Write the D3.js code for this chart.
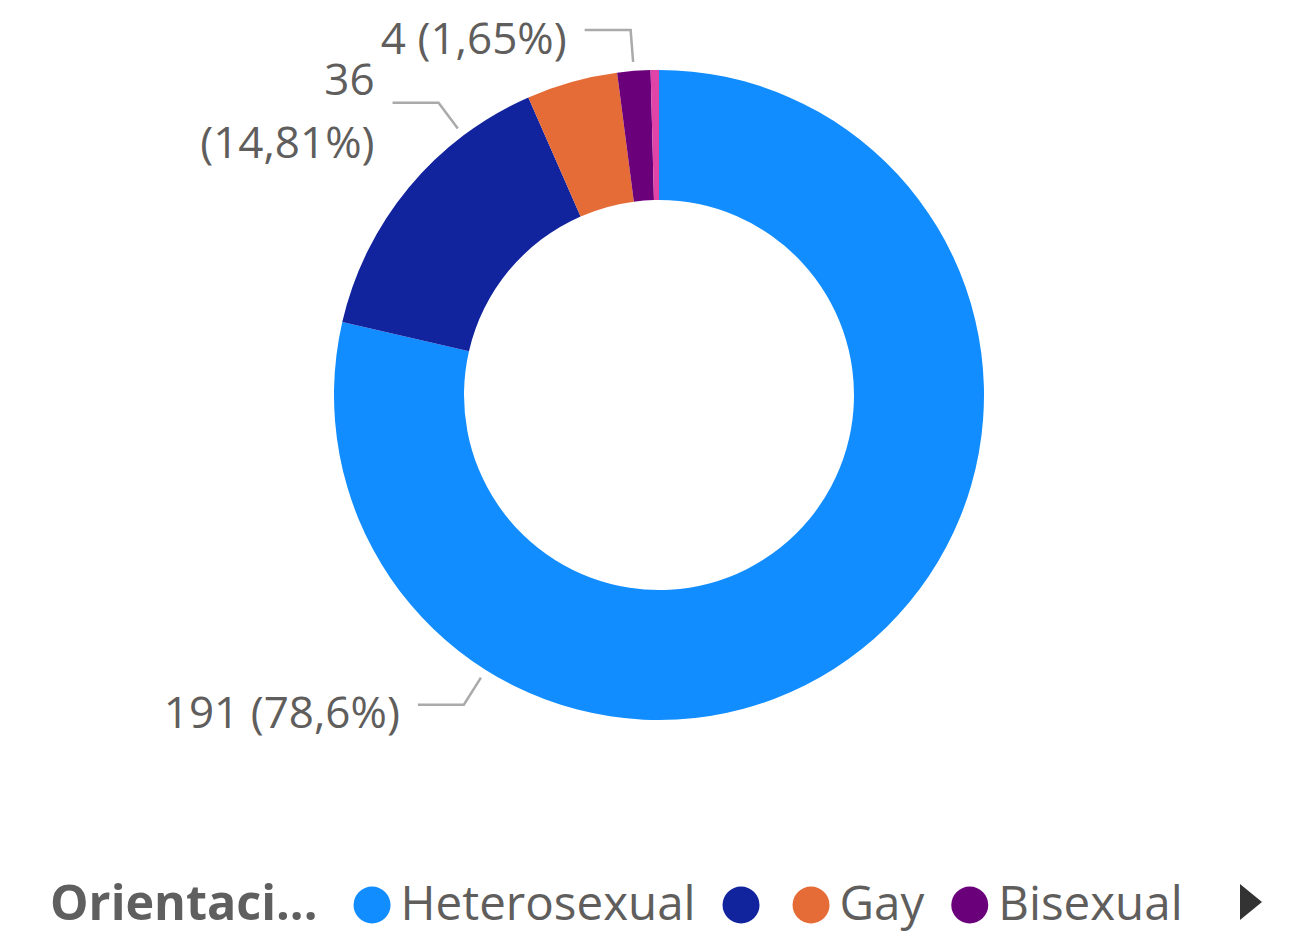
<!DOCTYPE html>
<html>
<head>
<meta charset="utf-8">
<script src="https://cdn.jsdelivr.net/npm/d3@7"></script>
<style>
  html, body { margin: 0; padding: 0; background: #fff; }
  svg { display: block; font-family: 'Segoe UI', 'Open Sans', sans-serif; }
</style>
</head>
<body>
<div id="chart"></div>
<script>
(function() {
  "use strict";

  var WIDTH = 1291;
  var HEIGHT = 934;

  // Data
  var categories = ['Heterosexual', '', 'Gay', 'Bisexual', 'Otra'];
  var counts = [191, 36, 11, 4, 1];
  var colors = ['#118DFF', '#12239E', '#E66C37', '#6B007B', '#E044A7'];
  var legendTitle = 'Orientaci...';
  var legendVisibleCount = 4;

  // Which slices carry a data label, where along the slice the leader line
  // starts (0..1 of the slice's angle) and whether the label wraps
  var labelSlices = [0, 1, 3];
  var labelFractions = [0.75, 0.75, 0.5];
  var labelWraps = [false, true, false];

  var cx = 659, cy = 395;
  var outerRadius = 325;
  var innerRadius = 195;

  var svg = d3.select('#chart')
      .append('svg')
      .attr('width', WIDTH)
      .attr('height', HEIGHT);

  var total = d3.sum(counts);

  var pie = d3.pie()
      .sort(null)
      .value(function(d) { return d; });

  var arcs = pie(counts);

  var arc = d3.arc()
      .innerRadius(innerRadius)
      .outerRadius(outerRadius);

  var donut = svg.append('g')
      .attr('transform', 'translate(' + cx + ',' + cy + ')');

  donut.selectAll('path')
      .data(arcs)
      .enter()
      .append('path')
      .attr('d', arc)
      .attr('fill', function(d, i) { return colors[i]; });

  /**
   * Formats a share as Power BI does in Spanish: two decimals at most,
   * trailing zeros dropped, comma as the decimal mark.
   */
  function formatPercent(value) {
    var s = d3.format('.2f')(value * 100);
    s = s.replace(/0+$/, '').replace(/\.$/, '');
    return s.replace('.', ',') + '%';
  }

  /**
   * Point on a circle of radius r at angle a (d3.pie angles, 0 = top).
   */
  function polar(a, r) {
    return [Math.sin(a) * r, -Math.cos(a) * r];
  }

  var labels = donut.append('g');

  labelSlices.forEach(function(sliceIndex, k) {
    var slice = arcs[sliceIndex];
    var a = slice.startAngle + (slice.endAngle - slice.startAngle) * labelFractions[k];
    var p0 = polar(a, outerRadius + 9);
    var p1 = polar(a, outerRadius + 41);
    var p2 = [p1[0] - 46, p1[1]];

    labels.append('polyline')
        .attr('points', [p0, p1, p2].map(function(p) { return p.join(','); }).join(' '))
        .attr('fill', 'none')
        .attr('stroke', '#AAAAAA')
        .attr('stroke-width', 2.5);

    var value = counts[sliceIndex];
    var pct = '(' + formatPercent(value / total) + ')';
    var lines = labelWraps[k] ? [String(value), pct] : [value + ' ' + pct];
    var lineHeight = 63;
    var top = p2[1] + 8 - (lines.length - 1) * lineHeight / 2;

    var text = labels.append('text')
        .attr('text-anchor', 'end')
        .attr('fill', '#605E5C')
        .style('font-size', '44px');

    lines.forEach(function(line, j) {
      text.append('tspan')
          .attr('x', p2[0] - 18)
          .attr('y', top + j * lineHeight)
          .attr('dy', '0.35em')
          .text(line);
    });
  });

  // Legend along the bottom
  var legend = svg.append('g')
      .attr('transform', 'translate(0,920)');

  var title = legend.append('text')
      .attr('x', 50)
      .attr('fill', '#5F5F5F')
      .style('font-size', '48.5px')
      .style('font-weight', 'bold')
      .text(legendTitle);

  var x = 50 + title.node().getComputedTextLength() + 36;

  categories.slice(0, legendVisibleCount).forEach(function(name, i) {
    legend.append('circle')
        .attr('cx', x + 18.5)
        .attr('cy', -15)
        .attr('r', 18.5)
        .attr('fill', colors[i]);
    x += 37;

    if (name) {
      var item = legend.append('text')
          .attr('x', x + 10)
          .attr('fill', '#605E5C')
          .style('font-size', '47.5px')
          .text(name);
      x += 10 + item.node().getComputedTextLength() + 27;
    } else {
      x += 33;
    }
  });

  // Page arrow for the hidden legend entries
  legend.append('path')
      .attr('d', 'M1240,-36L1262,-18L1240,0Z')
      .attr('fill', '#333333');
})();
</script>
</body>
</html>
